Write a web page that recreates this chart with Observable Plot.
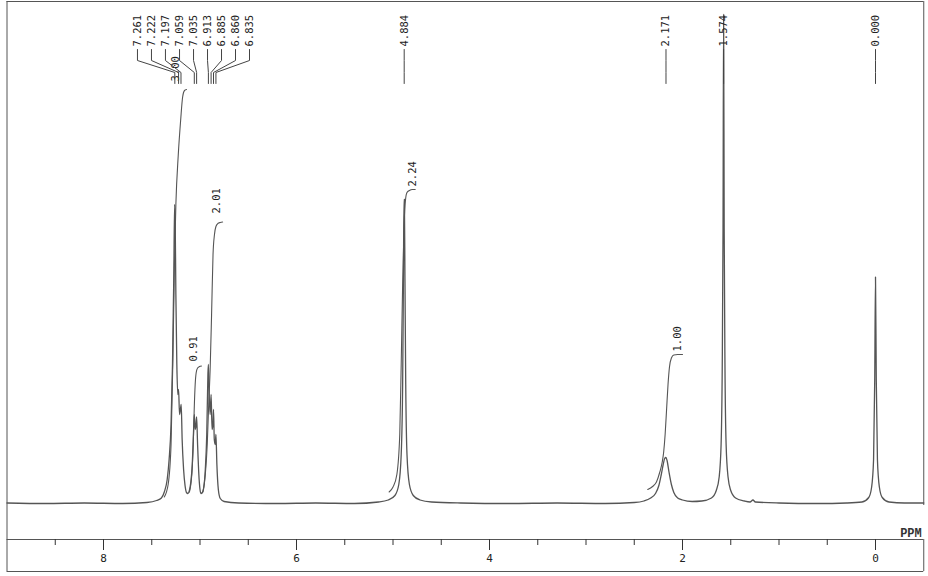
<!DOCTYPE html>
<html><head><meta charset="utf-8">
<script src="https://cdn.jsdelivr.net/npm/d3@7"></script>
<script src="https://cdn.jsdelivr.net/npm/@observablehq/plot@0.6"></script>
<style>body{margin:0;background:#fff}</style>
</head><body><div id="chart"></div>
<script>
// ---- Spectrum trace (chemical shift in ppm, relative intensity) ----
const specPpm = [9.0,8.6,8.2,7.8,7.55,7.45,7.40,7.37,7.34,7.32,7.30,7.285,7.272,7.263,7.258,7.250,7.240,7.230,7.222,7.212,7.203,7.195,7.185,7.17,7.155,7.14,7.125,7.11,7.095,7.08,7.068,7.059,7.050,7.043,7.035,7.025,7.012,7.00,6.99,6.975,6.96,6.945,6.93,6.918,6.913,6.905,6.895,6.885,6.875,6.866,6.860,6.852,6.842,6.835,6.825,6.81,6.79,6.75,6.6,6.2,5.8,5.4,5.15,5.05,4.98,4.94,4.915,4.90,4.892,4.886,4.882,4.876,4.868,4.855,4.83,4.79,4.72,4.6,4.3,3.8,3.3,2.8,2.5,2.40,2.33,2.28,2.245,2.22,2.20,2.185,2.172,2.160,2.14,2.115,2.09,2.05,2.00,1.9,1.80,1.70,1.65,1.62,1.60,1.588,1.580,1.574,1.568,1.560,1.548,1.528,1.50,1.45,1.36,1.30,1.27,1.245,1.0,0.6,0.3,0.14,0.07,0.04,0.02,0.008,0.000,-0.008,-0.02,-0.04,-0.07,-0.14,-0.3,-0.5];
const specInt = [0.3,0.2,0.3,0.2,0.4,0.8,1.3,2.5,5,9,16,28,45,60,58,42,28,22,23,18,19,20,13,7,3.8,2.4,2.2,2.8,4.5,8,14,18,15,15.5,17.5,12,6,3,2.2,2.4,3.5,7,14,26,28,22,18,22,15,16,19,13,12,14,8,3,1.2,0.6,0.3,0.2,0.3,0.2,0.5,0.9,1.8,4,10,24,45,61,61,45,24,10,4,1.8,0.9,0.5,0.3,0.2,0.3,0.2,0.4,0.7,1.3,2.2,3.8,6,8,9.2,9.4,8.8,6.5,4,2.4,1.3,0.9,0.6,0.7,1.3,2.8,5.5,12,28,55,98,55,28,12,5.5,2.8,1.3,0.7,0.5,0.9,0.5,0.3,0.2,0.3,0.5,1.4,3.5,9,25,45.5,25,9,3.5,1.4,0.5,0.3,0.3];

// ---- Integral curves ----
const integralPpm = [
  [7.37,7.33,7.30,7.28,7.265,7.25,7.225,7.20,7.18,7.16,7.14],
  [7.11,7.085,7.07,7.06,7.05,7.04,7.025,7.005,6.985],
  [6.97,6.945,6.925,6.91,6.895,6.88,6.865,6.85,6.835,6.815,6.79,6.765],
  [5.04,5.00,4.96,4.93,4.915,4.90,4.885,4.87,4.855,4.83,4.80,4.77],
  [2.36,2.31,2.27,2.235,2.21,2.195,2.18,2.165,2.15,2.135,2.115,2.09,2.05,2.0]
];
const integralVal = [
  [1.5,4,12,30,48,60,70,77,81.5,82.8,83.0],
  [2.5,6,12,19,24,26.3,27.3,27.6,27.7],
  [2.5,6,12,20,27,38,50,54,55.6,56.2,56.4,56.5],
  [2.5,3.5,6,14,28,44,56,61,62.4,62.8,63,63],
  [3,3.6,4.5,6.5,8.5,10.5,14,19,24,27.5,29.3,29.9,30,30]
];
const integralLabels = ["3.00","0.91","2.01","2.24","1.00"];
const integralLabelPpm = [7.254,7.07,6.83,4.80,2.05];
const integralLabelVal = [84.6,28.6,58.2,63.6,30.6];

// ---- Peak picks ----
const peakPpm = [7.261,7.222,7.197,7.059,7.035,6.913,6.885,6.860,6.835,4.884,2.171,1.574,0.000];
const peakLabels = ["7.261","7.222","7.197","7.059","7.035","6.913","6.885","6.860","6.835","4.884","2.171","1.574","0.000"];
const peakLabelPpm = [7.648,7.503,7.358,7.212,7.067,6.922,6.777,6.632,6.487,4.884,2.171,1.574,0.000];

// ---- Axis ticks ----
const majorTicks = [8,6,4,2,0];
const minorTicks = [8.5,7.5,7,6.5,5.5,5,4.5,3.5,3,2.5,1.5,1,0.5];

const spectrum = specPpm.map((p,i) => ({ppm: p, v: specInt[i]}));
const integrals = integralPpm.flatMap((arr, k) => arr.map((p,i) => ({id: k, ppm: p, v: integralVal[k][i]})));
const intLabels = integralLabels.map((t,i) => ({t, ppm: integralLabelPpm[i], v: integralLabelVal[i]}));
const connectors = peakPpm.flatMap((p,i) => [
  {id:i, ppm: peakLabelPpm[i], v: 91.0},
  {id:i, ppm: peakLabelPpm[i], v: 88.8},
  {id:i, ppm: p, v: 86.4},
  {id:i, ppm: p, v: 84.2}
]);
const pLabels = peakLabels.map((t,i) => ({t, ppm: peakLabelPpm[i]}));

const mono = "DejaVu Sans Mono";
const chart = Plot.plot({
  width: 928, height: 576,
  marginTop: 4, marginBottom: 37, marginLeft: 6.5, marginRight: 4.75,
  x: {domain: [9, -0.5], label: null},
  y: {domain: [-7, 100], axis: null},
  style: {background: "#fff", fontFamily: mono, color: "#222"},
  marks: [
    // frame
    Plot.ruleX([9], {y1: -13.4, y2: 100.6, stroke: "#555"}),
    Plot.ruleX([-0.5], {y1: -0.2, y2: 100.6, stroke: "#555"}),
    Plot.ruleX([-0.5], {y1: -13.4, y2: -7, stroke: "#555"}),
    Plot.ruleY([100.6, -7, -13.4], {x1: 9, x2: -0.5, stroke: "#555"}),
    // axis
    Plot.axisX(majorTicks, {anchor: "bottom", tickSize: 11, tickPadding: 4, fontSize: 11, tickFormat: d => String(d), label: null, stroke: "#333", fill: "#222"}),
    Plot.axisX(minorTicks, {anchor: "bottom", tickSize: 6, tickFormat: () => "", label: null, stroke: "#333"}),
    Plot.text(["PPM"], {x: -0.5, y: -6.4, text: d => d, textAnchor: "end", lineAnchor: "bottom", dx: -2, fontSize: 12, fontWeight: "bold", fontFamily: "Liberation Mono", fill: "#333"}),
    // spectrum
    Plot.line(spectrum, {x: "ppm", y: "v", curve: "monotone-x", stroke: "#555", strokeWidth: 1.3}),
    // integrals
    Plot.line(integrals, {x: "ppm", y: "v", z: "id", curve: "monotone-x", stroke: "#555", strokeWidth: 1.1}),
    Plot.text(intLabels, {x: "ppm", y: "v", text: "t", rotate: -90, textAnchor: "start", fontSize: 10.5, fill: "#222"}),
    // peak picks
    Plot.line(connectors, {x: "ppm", y: "v", z: "id", stroke: "#444", strokeWidth: 1}),
    Plot.text(pLabels, {x: "ppm", y: 91.6, text: "t", rotate: -90, textAnchor: "start", fontSize: 10.5, fill: "#222"})
  ]
});
document.getElementById("chart").append(chart);
</script>
</body></html>
